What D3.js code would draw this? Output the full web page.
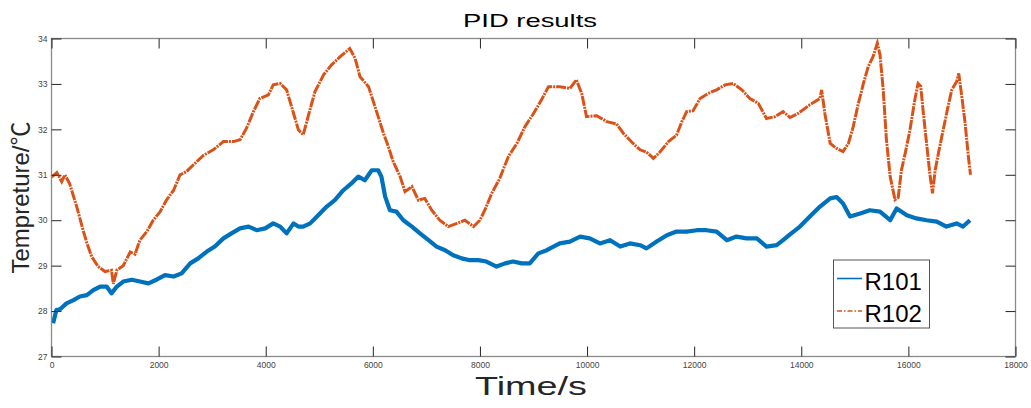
<!DOCTYPE html>
<html>
<head>
<meta charset="utf-8">
<script src="https://cdn.jsdelivr.net/npm/d3@7"></script>
<style>
  body { margin: 0; background: #fff; }
  text { font-family: "Liberation Sans", Arial, Helvetica, sans-serif; }
</style>
</head>
<body>
<script>
// values (time in s, temperature in degC)
var timeR101 = [30, 90, 160, 280, 410, 530, 660, 780, 910, 1030, 1120, 1220, 1340, 1500, 1650, 1810, 1960, 2120, 2280, 2430,
  2590, 2740, 2900, 3050, 3210, 3360, 3520, 3680, 3830, 3990, 4140, 4270, 4390, 4520, 4610, 4700, 4830, 4980, 5140, 5290,
  5450, 5600, 5730, 5850, 5980, 6100, 6160, 6230, 6320, 6440, 6570, 6730, 6880, 7040, 7190, 7350, 7500, 7660, 7810, 7970,
  8120, 8310, 8470, 8620, 8780, 8930, 9090, 9250, 9310, 9490, 9680, 9870, 10050, 10240, 10430, 10620, 10800, 10990, 11110, 11300,
  11490, 11670, 11860, 12050, 12230, 12420, 12610, 12790, 12980, 13170, 13350, 13540, 13660, 13790, 13975, 14160, 14350, 14540, 14660, 14780,
  14910, 15100, 15280, 15470, 15660, 15780, 15970, 16150, 16340, 16530, 16710, 16900, 17020, 17150];
var tempR101 = [27.73, 28.02, 28.04, 28.17, 28.24, 28.32, 28.35, 28.46, 28.54, 28.54, 28.39, 28.54, 28.65, 28.69, 28.65, 28.61, 28.69, 28.79, 28.76, 28.83,
  29.05, 29.16, 29.31, 29.42, 29.6, 29.71, 29.82, 29.86, 29.78, 29.82, 29.93, 29.86, 29.71, 29.93, 29.86, 29.86, 29.93, 30.11, 30.3, 30.44,
  30.66, 30.81, 30.96, 30.88, 31.1, 31.1, 30.96, 30.52, 30.22, 30.19, 30.0, 29.86, 29.71, 29.56, 29.42, 29.34, 29.23, 29.16, 29.12, 29.12,
  29.09, 28.98, 29.05, 29.09, 29.05, 29.05, 29.27, 29.34, 29.38, 29.49, 29.53, 29.64, 29.6, 29.49, 29.56, 29.42, 29.49, 29.45, 29.38, 29.53,
  29.67, 29.75, 29.75, 29.78, 29.78, 29.75, 29.56, 29.64, 29.6, 29.6, 29.42, 29.45, 29.56, 29.69, 29.86, 30.08, 30.3, 30.48, 30.51, 30.37,
  30.08, 30.15, 30.22, 30.19, 30.0, 30.26, 30.11, 30.04, 30.0, 29.97, 29.86, 29.93, 29.86, 30.0];

var timeR102 = [0, 100, 190, 250, 340, 470, 590, 660, 750, 870, 1000, 1120, 1155, 1220, 1340, 1470, 1560, 1650, 1780, 1900,
  2030, 2150, 2280, 2400, 2520, 2650, 2840, 3020, 3210, 3400, 3520, 3640, 3770, 3890, 4050, 4140, 4270, 4390, 4520, 4610,
  4700, 4800, 4920, 5080, 5230, 5390, 5570, 5670, 5760, 5920, 6010, 6100, 6200, 6290, 6380, 6510, 6600, 6730, 6850, 6970,
  7100, 7250, 7410, 7570, 7720, 7880, 8000, 8090, 8220, 8370, 8530, 8690, 8840, 9000, 9150, 9280, 9490, 9680, 9800, 9900,
  9990, 10180, 10370, 10550, 10680, 10860, 10990, 11110, 11240, 11360, 11520, 11670, 11770, 11860, 11980, 12110, 12260, 12420, 12580, 12730,
  12890, 13040, 13200, 13350, 13510, 13660, 13790, 13940, 14160, 14350, 14380, 14440, 14540, 14660, 14780, 14880, 14970, 15060, 15160, 15250,
  15340, 15420, 15470, 15530, 15590, 15660, 15750, 15810, 15870, 15940, 16030, 16120, 16180, 16230, 16280, 16340, 16400, 16450, 16500, 16560,
  16650, 16740, 16810, 16900, 16940, 16990, 17060, 17120, 17160];
var tempR102 = [30.95, 31.05, 30.85, 31.0, 30.8, 30.3, 29.78, 29.5, 29.2, 28.98, 28.87, 28.9, 28.6, 28.9, 29.0, 29.3, 29.25, 29.56, 29.75, 30.0,
  30.19, 30.45, 30.66, 31.0, 31.07, 31.22, 31.43, 31.55, 31.73, 31.73, 31.77, 32.02, 32.39, 32.68, 32.76, 32.98, 33.01, 32.87, 32.35, 31.99,
  31.88, 32.32, 32.83, 33.2, 33.42, 33.6, 33.78, 33.56, 33.16, 32.94, 32.61, 32.28, 31.91, 31.62, 31.29, 30.96, 30.63, 30.74, 30.44, 30.48,
  30.22, 30.0, 29.86, 29.93, 30.0, 29.86, 30.0, 30.22, 30.59, 30.92, 31.4, 31.69, 32.06, 32.35, 32.65, 32.94, 32.94, 32.9, 33.09, 32.79,
  32.28, 32.3, 32.17, 32.12, 31.91, 31.69, 31.55, 31.5, 31.36, 31.5, 31.73, 31.87, 32.17, 32.39, 32.41, 32.68, 32.79, 32.87, 32.98, 33.01,
  32.87, 32.68, 32.57, 32.24, 32.28, 32.39, 32.26, 32.35, 32.54, 32.68, 32.87, 32.35, 31.69, 31.58, 31.51, 31.69, 32.06, 32.54, 33.01, 33.38,
  33.6, 33.9, 33.64, 32.87, 31.77, 30.96, 30.45, 30.5, 31.1, 31.47, 31.99, 32.65, 33.01, 32.95, 32.35, 31.69, 31.03, 30.59, 31.1, 31.47,
  31.99, 32.5, 32.87, 33.05, 33.23, 32.79, 32.13, 31.4, 31.0];

var xTicks = [0, 2000, 4000, 6000, 8000, 10000, 12000, 14000, 16000, 18000];
var yTicks = [27, 28, 29, 30, 31, 32, 33, 34];
var seriesNames = ["R101", "R102"];

var W = 1031, H = 408;
// plot area edges (named to avoid the window.top global)
var plotL = 51.5, plotR = 1015.5, plotT = 38.5, plotB = 356.5;

var svg = d3.select("body").append("svg")
    .attr("width", W)
    .attr("height", H);

var x = d3.scaleLinear().domain([0, 18000]).range([plotL, plotR]);
var y = d3.scaleLinear().domain([27, 34]).range([plotB, plotT]);

// lines
var line = d3.line()
    .x(function(d) { return x(d[0]); })
    .y(function(d) { return y(d[1]); });

var r101 = d3.zip(timeR101, tempR101);
var r102 = d3.zip(timeR102, tempR102);

svg.append("path")
    .datum(r101)
    .attr("fill", "none")
    .attr("stroke", "#0072BD")
    .attr("stroke-width", 4.2)
    .attr("stroke-linejoin", "round")
    .attr("d", line);

svg.append("path")
    .datum(r102)
    .attr("fill", "none")
    .attr("stroke", "#D95319")
    .attr("stroke-width", 3)
    .attr("stroke-dasharray", "10,1,2,1")
    .attr("d", line);

// box
svg.append("rect")
    .attr("x", plotL)
    .attr("y", plotT)
    .attr("width", plotR - plotL)
    .attr("height", plotB - plotT)
    .attr("fill", "none")
    .attr("stroke", "#8a8a8a")
    .attr("stroke-width", 1.3);

// axes, ticks pointing inward
function styleAxis(g) {
  g.attr("font-size", "8.5px").attr("font-family", "'Liberation Sans', Arial, sans-serif");
  g.select(".domain").remove();
  g.selectAll(".tick line").attr("stroke", "#262626");
  g.selectAll(".tick text").attr("fill", "#444");
}

svg.append("g")
    .attr("transform", "translate(0," + plotB + ")")
    .call(d3.axisBottom(x).tickValues(xTicks).tickSize(-10).tickPadding(5).tickFormat(d3.format("d")))
    .call(styleAxis);

svg.append("g")
    .attr("transform", "translate(0," + plotT + ")")
    .call(d3.axisTop(x).tickValues(xTicks).tickSize(-10).tickFormat(""))
    .call(styleAxis);

svg.append("g")
    .attr("transform", "translate(" + plotL + ",0)")
    .call(d3.axisLeft(y).tickValues(yTicks).tickSize(-10).tickPadding(4).tickFormat(d3.format("d")))
    .call(styleAxis);

svg.append("g")
    .attr("transform", "translate(" + plotR + ",0)")
    .call(d3.axisRight(y).tickValues(yTicks).tickSize(-10).tickFormat(""))
    .call(styleAxis);

// titles (the reference is stretched sideways, so widths are fixed)
svg.append("text")
    .attr("x", 530)
    .attr("y", 27)
    .attr("text-anchor", "middle")
    .attr("font-size", "19px")
    .attr("textLength", 134)
    .attr("lengthAdjust", "spacingAndGlyphs")
    .attr("fill", "#000")
    .text("PID results");

svg.append("text")
    .attr("x", 531)
    .attr("y", 395)
    .attr("text-anchor", "middle")
    .attr("font-size", "25px")
    .attr("textLength", 112)
    .attr("lengthAdjust", "spacingAndGlyphs")
    .attr("fill", "#262626")
    .text("Time/s");

var ylab = svg.append("text")
    .attr("transform", "translate(28.5," + ((plotT + plotB) / 2) + ") rotate(-90)")
    .attr("text-anchor", "middle")
    .attr("font-size", "24px")
    .attr("fill", "#262626");
ylab.append("tspan").text("Tempreture/");
ylab.append("tspan").attr("font-family", "'Noto Sans CJK SC', sans-serif").text("℃");

// legend
var legend = svg.append("g").attr("transform", "translate(833.5,260)");

legend.append("rect")
    .attr("width", 96)
    .attr("height", 68)
    .attr("fill", "#fff")
    .attr("stroke", "#555")
    .attr("stroke-width", 1);

var styles = [
  {color: "#0072BD", dash: null},
  {color: "#D95319", dash: "5,2,1.5,2"}
];

seriesNames.forEach(function(name, i) {
  var cy = 18.5 + i * 32.5;
  legend.append("line")
      .attr("x1", 3.5).attr("x2", 28.5)
      .attr("y1", cy).attr("y2", cy)
      .attr("stroke", styles[i].color)
      .attr("stroke-width", 1.6)
      .attr("stroke-dasharray", styles[i].dash);
  legend.append("text")
      .attr("x", 31)
      .attr("y", cy + 11)
      .attr("font-size", "24px")
      .attr("fill", "#000")
      .text(name);
});
</script>
</body>
</html>
